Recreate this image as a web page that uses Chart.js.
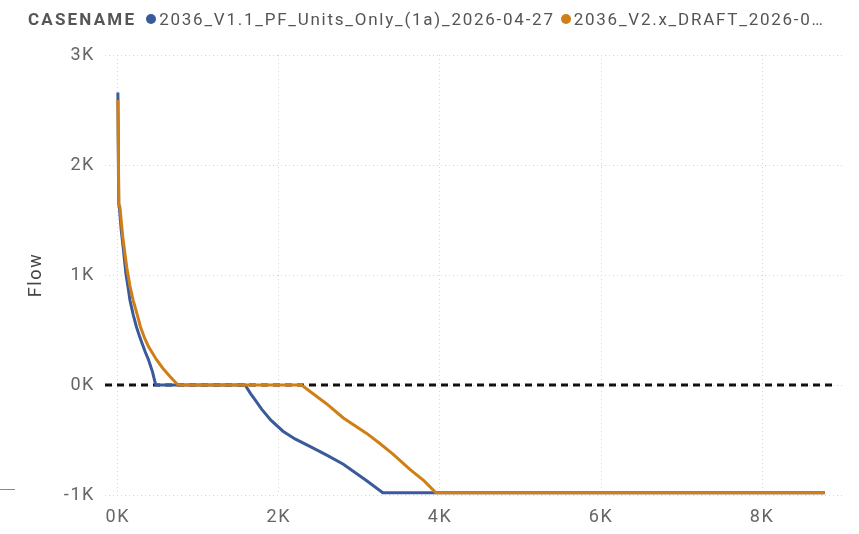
<!DOCTYPE html>
<html>
<head>
<meta charset="utf-8">
<script src="https://cdn.jsdelivr.net/npm/chart.js@4"></script>
<style>
  html, body { margin: 0; padding: 0; background: #fff; }
  #wrap { position: relative; width: 859px; height: 534px; }
  #legend {
    position: absolute; left: 28px; top: 9px;
    font-family: Roboto, sans-serif; font-size: 17px; color: #555;
    letter-spacing: 1.75px; white-space: nowrap;
  }
  #legend b { letter-spacing: 2.2px; margin-right: 10px; color: #555; }
  #legend .dot { display: inline-block; width: 10px; height: 10px; border-radius: 50%; margin-right: 3px; vertical-align: 1px; }
  #mark { position: absolute; left: 0; top: 489px; width: 15px; height: 0; border-top: 1.5px solid #888; }
</style>
</head>
<body>
<div id="wrap">
  <canvas id="chart" width="859" height="534"></canvas>
  <div id="legend"></div>
  <div id="mark"></div>
</div>
<script>
// Seriennamen und Farben
const seriesNames = ['2036_V1.1_PF_Units_Only_(1a)_2026-04-27', '2036_V2.x_DRAFT_2026-0…'];
const seriesColors = ['#3B5A9C', '#D07F16'];

// Werte der blauen Linie (x = Rang, y = Flow)
const blueX = [0, 10, 20, 40, 66, 100, 130, 150, 190, 230, 270, 300, 340, 380, 430, 470, 1580, 1650, 1700, 1785, 1900, 2050, 2200, 2390, 2600, 2800, 3090, 3290, 8780];
const blueY = [2660, 1650, 1600, 1420, 1250, 1010, 870, 770, 640, 530, 440, 380, 300, 230, 120, 0, 0, -80, -130, -220, -320, -420, -490, -560, -640, -720, -870, -980, -980];

// Werte der orangen Linie
const orangeX = [0, 12, 25, 60, 110, 150, 190, 240, 280, 330, 380, 480, 560, 650, 720, 750, 2280, 2590, 2800, 3090, 3250, 3420, 3630, 3800, 3950, 8780];
const orangeY = [2590, 1640, 1620, 1350, 1070, 900, 770, 640, 530, 430, 350, 230, 150, 75, 20, 0, 0, -170, -300, -440, -530, -630, -770, -870, -980, -980];

// Konstante Linie bei 0
const zeroX = [-160, 8900];
const zeroY = [0, 0];

// Achsen
const xTicks = [0, 2000, 4000, 6000, 8000];
const yTicks = [-1000, 0, 1000, 2000, 3000];

const toPoints = (xs, ys) => xs.map((x, i) => ({ x: x, y: ys[i] }));

// Legende als HTML
document.getElementById('legend').innerHTML = '<b>CASENAME</b>' + seriesNames.map((n, i) =>
  '<span class="dot" style="background:' + seriesColors[i] + '"></span>' + n
).join(' ');

const spacing = {
  id: 'spacing',
  beforeDraw(chart) { chart.ctx.letterSpacing = '1.6px'; }
};

const tickFont = { family: 'Roboto', size: 18 };

new Chart(document.getElementById('chart'), {
  type: 'line',
  data: {
    datasets: [
      { label: seriesNames[1], data: toPoints(orangeX, orangeY), borderColor: seriesColors[1], borderWidth: 3, order: 1 },
      { label: seriesNames[0], data: toPoints(blueX, blueY), borderColor: seriesColors[0], borderWidth: 3, order: 2 },
      { label: 'Null', data: toPoints(zeroX, zeroY), borderColor: '#111', borderWidth: 3, borderDash: [7, 5], order: 3 }
    ]
  },
  options: {
    responsive: false,
    animation: false,
    layout: { padding: { top: 55, right: 14, left: 0, bottom: 0 } },
    elements: { point: { radius: 0 }, line: { tension: 0, borderCapStyle: 'butt' } },
    plugins: { legend: { display: false }, tooltip: { enabled: false } },
    scales: {
      x: {
        type: 'linear', min: -160, max: 9030,
        afterBuildTicks: s => { s.ticks = xTicks.map(v => ({ value: v })); },
        afterFit: s => { s.height = 39; },
        grid: { color: '#d6d6d6', drawTicks: false },
        border: { display: false, dash: [1, 3] },
        ticks: { color: '#666', font: tickFont, padding: 12, maxRotation: 0, callback: v => (v / 1000) + 'K' }
      },
      y: {
        min: -1000, max: 3000,
        afterBuildTicks: s => { s.ticks = yTicks.map(v => ({ value: v })); },
        afterFit: s => { s.width = 105; },
        grid: { color: '#d6d6d6', drawTicks: false },
        border: { display: false, dash: [1, 3] },
        ticks: { color: '#666', font: tickFont, padding: 10, callback: v => (v / 1000) + 'K' },
        title: { display: true, text: 'Flow', color: '#444', font: { family: 'Roboto', size: 18 }, padding: { top: 26, bottom: 0 } }
      }
    }
  },
  plugins: [spacing]
});
</script>
</body>
</html>
